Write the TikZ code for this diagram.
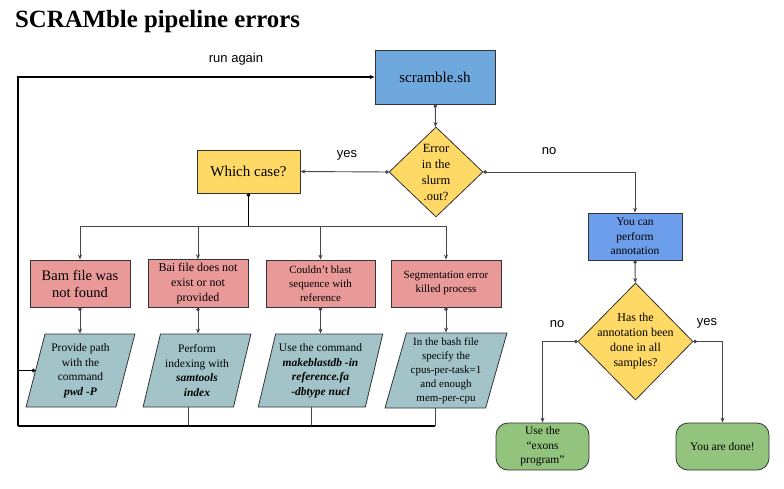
\documentclass[tikz,border=0pt]{standalone}
\usepackage{fontspec}
\setmainfont{Liberation Serif}
\setsansfont{Liberation Sans}
\usepackage{tikz}
\usetikzlibrary{arrows,arrows.meta,shapes,shapes.geometric,positioning,calc}
\usepackage{xcolor}
\definecolor{scrblue}{RGB}{111,168,220}
\definecolor{annblue}{RGB}{109,158,235}
\definecolor{caseyellow}{RGB}{255,217,102}
\definecolor{errred}{RGB}{234,153,153}
\definecolor{fixteal}{RGB}{162,196,201}
\definecolor{okgreen}{RGB}{147,196,125}
\definecolor{linegray}{RGB}{70,70,70}
\tikzstyle{arrow} = [line width=0.9pt,{Circle[length=3.5pt]}-{Stealth[length=5pt,width=4pt]},color=linegray]
\tikzstyle{loopline} = [line width=1.4pt,color=black]
\tikzstyle{box} = [rectangle, draw=black!80, line width=0.8pt, text centered, align=center, font=\fontsize{11.5}{14.5}\selectfont]
\tikzstyle{decision} = [diamond, draw=black!80, line width=0.8pt, fill=caseyellow, inner sep=0pt]
\tikzstyle{fix} = [trapezium, trapezium left angle=74, trapezium right angle=106, trapezium stretches=true, draw=black!80, line width=0.8pt, fill=fixteal, align=center, minimum height=73pt, font=\fontsize{11.5}{14.5}\selectfont]
\tikzstyle{endbox} = [box, rounded corners=12pt, fill=okgreen, minimum width=93pt, minimum height=47pt]
\tikzstyle{tag} = [font=\sffamily\fontsize{13}{15}\selectfont]

\begin{document}
\begin{tikzpicture}[x=1pt, y=-1pt]
    \useasboundingbox (0,0) rectangle (784,488);

    % Title
    \node[anchor=base west, inner sep=0pt, font=\bfseries\fontsize{24.8}{28}\selectfont] (title) at (15,27) {SCRAMble pipeline errors};

    % Script and first check
    \node[box, fill=scrblue, minimum width=120pt, minimum height=54pt, font=\fontsize{15}{17}\selectfont] (scr) at (435,77) {scramble.sh};
    \node[decision, minimum width=94pt, minimum height=90pt] (err) at (436,172) {};
    \node[align=center, font=\fontsize{12.5}{16}\selectfont] (errtext) at (err) {Error\\in the\\slurm\\.out?};
    \node[box, fill=caseyellow, minimum width=103pt, minimum height=43pt, font=\fontsize{15}{17}\selectfont] (which) at (248.5,171.5) {Which case?};

    % Cases
    \node[box, fill=errred, minimum width=100pt, minimum height=47pt, font=\fontsize{14.5}{17}\selectfont] (bam) at (80,283.5) {Bam file was\\not found};
    \node[box, fill=errred, minimum width=100pt, minimum height=47pt, font=\fontsize{12}{15}\selectfont] (bai) at (198,283.5) {Bai file does not\\exist or not\\provided};
    \node[box, fill=errred, minimum width=109pt, minimum height=47pt, font=\fontsize{11}{14}\selectfont] (blast) at (320.5,283.5) {Couldn't blast\\sequence with\\reference};
    \node[box, fill=errred, minimum width=110pt, minimum height=47pt, font=\fontsize{11}{14}\selectfont] (seg) at (446,283.5) {Segmentation error\\killed process};

    % Fixes
    \node[fix, minimum width=109pt] (pwd) at (80.5,370.5) {Provide path\\with the\\command\\\textbf{\textit{pwd -P}}};
    \node[fix, minimum width=108pt] (index) at (197,370.5) {Perform\\indexing with\\\textbf{\textit{samtools}}\\\textbf{\textit{index}}};
    \node[fix, minimum width=123pt] (mkdb) at (320.5,370.5) {Use the command\\\textbf{\textit{makeblastdb -in}}\\\textbf{\textit{reference.fa}}\\\textbf{\textit{-dbtype nucl}}};
    \node[fix, minimum width=122pt, minimum height=75pt, font=\fontsize{11}{14}\selectfont] (cpus) at (446,370.5) {In the bash file\\specify the\\cpus-per-task=1\\and enough\\mem-per-cpu};

    % Annotation branch
    \node[box, fill=annblue, minimum width=94pt, minimum height=47pt] (ann) at (635,236.5) {You can\\perform\\annotation};
    \node[decision, minimum width=115pt, minimum height=117pt] (all) at (635.5,341.5) {};
    \node[align=center, font=\fontsize{12}{15}\selectfont] (alltext) at (all) {Has the\\annotation been\\done in all\\samples?};
    \node[endbox] (exons) at (542.5,446.5) {Use the\\``exons\\program''};
    \node[endbox] (done) at (722.5,446.5) {You are done!};

    % Labels
    \node[tag] (runagain) at (236,59) {run again};
    \node[tag] (yes1) at (347,155) {yes};
    \node[tag] (no1) at (549,151) {no};
    \node[tag] (no2) at (557,324) {no};
    \node[tag] (yes2) at (707,323) {yes};

    % Loop back
    \coordinate (loopTL) at (18,77);
    \coordinate (loopBL) at (18,426);
    \draw[arrow] (scr) -- (err);
    \draw[arrow] (err.west) -- (which.east);
    \draw[arrow] (err.east) -| (ann.north);
    \draw[arrow] (ann) -- (all);
    \draw[arrow] (all.west) -| (exons.north);
    \draw[arrow] (all.east) -| (done.north);

    \draw[loopline, {Circle[length=3.5pt]}-] (which.south) -- ++(0,33) coordinate (split);
    \draw[arrow, -{Stealth[length=5pt,width=4pt]}] (split) -| (bam.north);
    \draw[arrow, -{Stealth[length=5pt,width=4pt]}] (split) -| (bai.north);
    \draw[arrow, -{Stealth[length=5pt,width=4pt]}] (split) -| (blast.north);
    \draw[arrow, -{Stealth[length=5pt,width=4pt]}] (split) -| (seg.north);

    \draw[arrow] (bam.south) -- (bam.south |- pwd.top side);
    \draw[arrow] (bai.south) -- (bai.south |- index.top side);
    \draw[arrow] (blast.south) -- (blast.south |- mkdb.top side);
    \draw[arrow] (seg.south) -- (seg.south |- cpus.top side);

    \draw[arrow, -] (index.bottom side) -- (index.bottom side |- loopBL);
    \draw[arrow, -] (mkdb.bottom side) -- (mkdb.bottom side |- loopBL);
    \draw[arrow, -] (cpus.bottom side) -- (cpus.bottom side |- loopBL);
    \draw[loopline] (cpus.bottom side |- loopBL) -- (loopBL);
    \draw[loopline, {Circle[length=3.5pt]}-] (pwd.left side) -- (pwd.left side -| loopBL);
    \draw[loopline, -{Stealth[length=5pt,width=4pt]}] (loopBL) -- (loopTL) -- (scr.west);
\end{tikzpicture}
\end{document}
